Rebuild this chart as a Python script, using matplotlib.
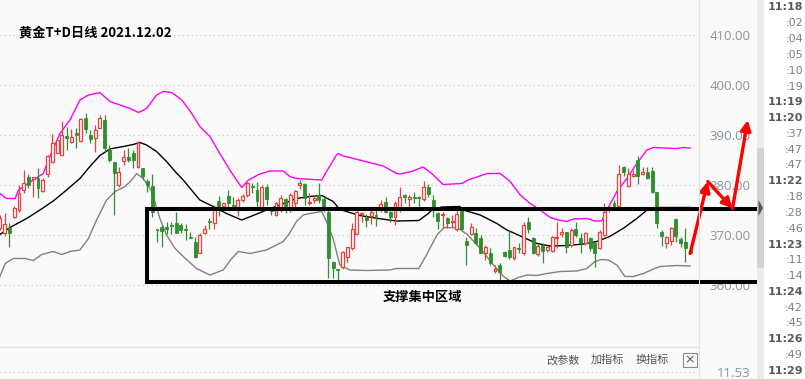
import numpy as np
import matplotlib
matplotlib.use("Agg")
import matplotlib.pyplot as plt
from matplotlib.patches import Rectangle, Polygon
from matplotlib.lines import Line2D

# ---- daily candles (k = candle position) ----
opens = [371.5, 370.4, 371.4, 373.6, 375.0, 379.0, 381.6, 381.3, 381.5, 378.9,
         382.2, 384.7, 386.5, 386.0, 389.7, 388.7, 390.4, 388.8, 393.4, 390.0,
         389.4, 391.4, 392.9, 387.0, 384.7, 380.0, 384.8, 385.6, 386.5, 383.6,
         383.4, 380.8, 379.8, 371.2, 371.7, 371.5, 372.0, 372.5, 372.0, 371.2,
         369.7, 368.7, 366.4, 370.4, 372.8, 372.4, 376.8, 375.9, 377.9, 376.0,
         375.0, 377.0, 378.0, 379.8, 379.0, 375.7, 379.7, 375.0, 374.0, 375.0,
         377.2, 375.0, 376.4, 380.0, 380.2, 376.4, 377.0, 378.0, 377.2, 374.7,
         364.6, 363.2, 363.6, 365.7, 367.4, 370.2, 374.3, 373.6, 373.8, 374.0,
         375.0, 376.7, 374.7, 373.6, 375.5, 378.0, 377.3, 377.7, 377.6, 377.2,
         379.6, 377.0, 374.4, 374.0, 373.4, 372.7, 371.2, 375.2, 368.8, 370.2,
         370.5, 369.3, 366.4, 366.4, 362.9, 364.0, 366.7, 367.0, 365.4, 367.4,
         366.4, 372.5, 369.4, 366.2, 368.0, 367.0, 366.9, 369.4, 370.2, 370.5,
         368.0, 371.2, 369.4, 368.4, 369.5, 368.4, 367.4, 370.0, 375.2, 376.4,
         375.8, 383.6, 379.8, 381.8, 385.0, 382.2, 382.7, 382.9, 378.7, 370.7,
         368.4, 368.9, 373.2, 369.2, 368.7, 367.0]
closes = [373.5, 372.2, 370.5, 375.5, 378.4, 380.5, 380.0, 381.6, 379.4, 381.0,
          385.8, 388.4, 389.0, 390.0, 389.4, 389.7, 390.0, 393.2, 391.2, 389.2,
          391.0, 393.4, 387.4, 385.0, 382.4, 382.7, 385.6, 385.0, 385.0, 388.4,
          381.9, 380.0, 374.7, 371.0, 370.9, 371.2, 371.9, 370.5, 371.0, 371.0,
          369.5, 365.7, 370.0, 371.2, 372.6, 375.7, 375.8, 376.4, 376.5, 375.9,
          377.0, 377.9, 380.4, 379.7, 376.8, 379.7, 377.2, 374.8, 376.5, 377.5,
          375.8, 378.0, 378.8, 380.5, 377.4, 376.7, 377.4, 377.0, 375.0, 365.4,
          363.4, 363.0, 366.7, 367.5, 371.2, 374.7, 374.5, 373.0, 374.7, 373.9,
          376.2, 374.7, 373.6, 376.5, 377.7, 377.6, 377.7, 377.4, 377.5, 379.7,
          378.2, 375.0, 372.9, 374.2, 372.5, 372.9, 374.2, 371.2, 368.0, 371.7,
          368.5, 366.5, 367.7, 364.4, 363.3, 362.7, 365.8, 365.6, 367.6, 367.2,
          372.0, 371.2, 366.4, 367.8, 366.9, 367.7, 369.7, 369.7, 370.5, 367.7,
          371.0, 370.0, 368.4, 370.4, 367.4, 366.4, 370.7, 374.7, 375.7, 375.7,
          382.2, 382.7, 382.2, 382.2, 381.8, 382.5, 381.4, 378.7, 372.5, 369.8,
          369.7, 371.4, 369.8, 368.5, 367.4, 366.5]
highs = [374.0, 374.5, 372.5, 375.8, 380.0, 383.0, 382.2, 381.7, 383.4, 381.4,
         386.0, 390.2, 389.4, 392.9, 391.7, 391.2, 391.4, 393.4, 394.5, 391.0,
         392.0, 394.0, 394.0, 388.0, 384.7, 383.7, 387.0, 387.4, 387.0, 388.8,
         383.4, 381.3, 382.2, 371.2, 372.0, 372.7, 372.7, 374.7, 372.5, 372.2,
         370.7, 369.7, 370.4, 372.0, 373.5, 376.0, 377.9, 376.5, 379.0, 377.7,
         377.4, 378.2, 380.7, 380.5, 380.7, 380.0, 380.2, 375.7, 376.7, 378.0,
         377.4, 378.4, 379.0, 381.0, 380.5, 378.4, 378.0, 380.5, 377.7, 375.0,
         364.8, 363.2, 366.9, 367.7, 372.4, 375.0, 374.7, 374.2, 375.4, 375.0,
         377.0, 377.7, 375.5, 376.9, 379.7, 378.2, 378.0, 378.7, 377.8, 380.9,
         380.2, 378.0, 374.7, 374.7, 373.6, 374.0, 375.0, 375.4, 369.7, 372.5,
         371.4, 370.0, 368.0, 367.4, 364.0, 364.4, 366.9, 371.0, 367.7, 368.4,
         372.7, 373.7, 369.7, 368.2, 368.5, 368.0, 369.8, 372.7, 371.4, 370.7,
         371.4, 372.7, 370.4, 370.7, 369.7, 368.7, 371.0, 376.4, 376.2, 377.0,
         384.0, 383.8, 383.4, 383.0, 385.8, 383.6, 383.7, 383.7, 378.7, 371.0,
         369.8, 371.6, 373.4, 369.6, 371.4, 368.0]
lows = [371.0, 369.8, 367.7, 373.4, 374.7, 378.4, 379.4, 377.7, 377.4, 378.7,
        381.7, 384.4, 386.4, 386.0, 387.0, 388.4, 387.4, 388.6, 390.4, 388.4,
        386.7, 391.4, 386.7, 384.7, 374.0, 379.7, 384.0, 384.7, 383.4, 383.4,
        381.0, 378.7, 373.7, 368.7, 367.7, 370.2, 370.2, 370.4, 370.4, 369.0,
        369.4, 365.4, 366.4, 370.2, 371.2, 371.2, 373.9, 375.4, 375.0, 375.0,
        373.8, 376.7, 377.7, 378.4, 375.5, 375.5, 376.0, 374.0, 373.8, 374.7,
        374.4, 374.7, 375.7, 379.2, 376.0, 376.0, 376.4, 376.4, 374.7, 361.4,
        361.4, 360.7, 363.2, 364.6, 367.0, 370.2, 372.7, 371.7, 372.2, 371.8,
        374.7, 374.4, 372.7, 372.0, 374.7, 376.5, 375.0, 376.4, 375.7, 376.9,
        377.7, 373.6, 371.2, 371.4, 371.4, 371.7, 370.9, 371.0, 364.0, 370.2,
        368.0, 366.4, 365.0, 364.0, 362.4, 360.7, 365.7, 365.2, 365.0, 366.4,
        366.0, 370.4, 366.2, 365.8, 364.4, 366.7, 366.7, 367.4, 369.7, 366.4,
        367.7, 369.7, 366.4, 368.0, 366.9, 363.6, 367.2, 369.8, 374.7, 375.0,
        375.6, 381.8, 379.6, 381.7, 380.2, 382.0, 381.2, 378.4, 371.4, 367.8,
        367.4, 368.0, 368.7, 367.6, 364.7, 366.4]

upper_k = [0, 1.4, 3.2, 3.9, 7.0, 9.1, 10.5, 12.6, 14.7, 16.8,
           18.6, 21.0, 23.1, 25.2, 27.3, 29.1, 30.8, 32.9, 34.3, 36.1,
           38.2, 40.3, 42.0, 44.1, 46.2, 48.3, 49.7, 50.8, 52.2, 54.6,
           56.7, 59.5, 60.9, 62.3, 67.6, 68.6, 70.7, 71.1, 72.1, 73.5,
           75.6, 78.4, 80.5, 83.3, 84.0, 86.5, 88.9, 90.7, 93.1, 97.0,
           98.6, 102.4, 105.1, 107.2, 109.3, 111.4, 113.5, 115.6, 117.3, 119.1,
           120.5, 123.3, 125.0, 126.4, 128.1, 129.6, 131.7, 133.8, 135.9, 137.3,
           142.2, 143.6, 145.0]
upper_v = [378.3, 377.3, 377.3, 379.0, 381.0, 382.3, 385.7, 390.3, 393.0, 397.0,
           398.0, 398.5, 396.7, 396.0, 395.3, 394.5, 395.3, 398.0, 398.7, 398.5,
           397.0, 394.3, 391.7, 389.7, 386.3, 383.0, 381.0, 379.5, 381.0, 382.2,
           382.8, 382.8, 381.7, 381.3, 381.0, 382.7, 386.0, 386.3, 385.8, 385.5,
           385.0, 384.3, 383.8, 382.3, 382.2, 382.7, 383.6, 382.3, 380.1, 380.3,
           381.1, 382.3, 382.3, 380.7, 378.0, 376.3, 375.0, 373.5, 373.0, 372.7,
           373.2, 373.3, 372.8, 372.8, 376.0, 378.7, 381.3, 384.3, 387.0, 387.5,
           387.3, 387.5, 387.4]
mid_k = [0, 2.1, 5.6, 8.4, 11.2, 14.0, 16.8, 18.9, 21.0, 23.1,
         25.9, 28.0, 29.4, 30.8, 32.9, 35.0, 36.8, 38.5, 42.0, 44.8,
         47.6, 50.8, 53.2, 56.0, 58.8, 62.3, 65.1, 67.6, 70.0, 71.4,
         75.6, 79.5, 83.3, 88.0, 90.0, 90.7, 92.8, 96.6, 97.3, 100.9,
         104.4, 106.5, 108.2, 110.0, 112.8, 115.6, 119.1, 122.6, 125.4, 128.1,
         130.9, 133.8, 136.2, 138.7, 145.0]
mid_v = [370.1, 371.5, 373.3, 375.0, 376.8, 379.0, 381.3, 383.7, 385.9, 387.2,
         387.7, 388.1, 388.5, 388.0, 386.7, 384.7, 382.7, 381.0, 377.0, 375.7,
         374.3, 373.0, 373.9, 375.0, 376.0, 377.3, 377.7, 377.9, 376.7, 375.1,
         373.9, 373.3, 372.8, 372.9, 374.3, 375.0, 375.6, 375.7, 375.0, 374.0,
         372.3, 371.0, 370.3, 369.5, 368.3, 367.8, 367.9, 368.2, 368.7, 369.7,
         371.3, 373.3, 375.2, 375.5, 375.5]
lower_k = [0, 1.1, 2.8, 5.3, 7.0, 8.8, 11.2, 13.0, 14.7, 16.8,
           18.6, 20.3, 22.4, 24.2, 26.3, 27.7, 28.7, 30.1, 31.9, 33.6,
           35.0, 36.8, 38.5, 41.3, 44.1, 46.9, 48.7, 50.1, 52.5, 56.0,
           59.5, 60.6, 62.3, 63.7, 65.1, 67.6, 68.6, 70.0, 71.4, 73.5,
           76.8, 81.9, 83.3, 88.0, 89.6, 91.8, 93.3, 96.2, 98.3, 100.9,
           103.7, 105.8, 107.2, 108.9, 110.7, 112.8, 114.9, 117.7, 121.2, 123.3,
           125.0, 126.4, 127.8, 129.6, 131.3, 133.1, 135.2, 137.3, 138.7, 142.2,
           145.0]
lower_v = [361.7, 364.3, 365.3, 365.3, 364.9, 366.1, 366.7, 366.1, 366.7, 367.0,
           369.3, 373.0, 377.0, 378.7, 379.7, 381.0, 382.3, 381.3, 378.7, 373.3,
           370.0, 367.3, 365.7, 363.3, 362.0, 363.0, 365.3, 366.7, 366.3, 367.0,
           368.7, 370.0, 372.7, 374.0, 374.3, 374.7, 372.7, 369.3, 364.0, 363.0,
           362.9, 363.0, 363.3, 363.3, 366.0, 370.0, 371.5, 371.4, 370.0, 367.3,
           364.0, 361.7, 360.8, 361.5, 362.0, 361.9, 362.3, 362.7, 362.8, 363.3,
           364.7, 365.1, 365.0, 364.0, 361.7, 361.7, 362.3, 363.2, 363.7, 363.9,
           363.8]

# ---- annotations ----
price_ticks = [360, 370, 380, 390, 400, 410]
zone_k = [30.9, 164.7]
zone_v = [360.66, 375.2]
zone_label = "支撑集中区域"
zone_label_pos = (88.7, 357.6)
arrow_k = [145.0, 148.7, 153.9, 157.1]
arrow_v = [366.3, 380.7, 375.3, 393.0]
title = "黄金T+D日线 2021.12.02"
indicator_level = 11.53
panel_buttons = ["改参数", "加指标", "换指标"]
sidebar_times = ["11:18", ":02", ":04", ":05", ":10", ":19", "11:19", "11:20",
                 ":37", ":47", ":47", "11:22", ":18", ":28", ":46", "11:23",
                 ":11", ":14", "11:24", ":42", ":45", "11:26", ":49", "11:29"]

W, H = 805, 379
UP, DOWN = "#e8403e", "#2f8f2f"
BG = "#fafafa"
CJK = ["Noto Sans CJK SC", "DejaVu Sans"]

fig = plt.figure(figsize=(W / 100, H / 100), dpi=100, facecolor=BG)

def px(x, y, w, h):
    # pixel box (from top-left) -> figure fraction
    return [x / W, 1 - (y + h) / H, w / W, h / H]

# main chart
ax = fig.add_axes(px(0, 0, 698, 347))
ax.set_facecolor(BG)
ax.set_xlim(0.013, 146.65)
ax.set_ylim(347.6, 417)

xs = np.arange(len(opens))
o = np.array(opens); c = np.array(closes)
hi = np.array(highs); lo = np.array(lows)
up = c >= o
body_lo = np.minimum(o, c)
body_h = np.maximum(np.abs(c - o), 0.18)

ax.vlines(xs[up], lo[up], hi[up], color=UP, lw=0.9, zorder=3)
ax.vlines(xs[~up], lo[~up], hi[~up], color=DOWN, lw=0.9, zorder=3)
ax.bar(xs[up], body_h[up], bottom=body_lo[up], width=0.62,
       facecolor=BG, edgecolor=UP, lw=0.9, zorder=4)
ax.bar(xs[~up], body_h[~up], bottom=body_lo[~up], width=0.62,
       facecolor=DOWN, edgecolor=DOWN, lw=0.6, zorder=4)

ax.plot(upper_k, upper_v, color="#ff00ff", lw=1.0, zorder=2)
ax.plot(mid_k, mid_v, color="black", lw=1.0, zorder=2)
ax.plot(lower_k, lower_v, color="#808080", lw=1.0, zorder=2)

ax.set_yticks(price_ticks)
ax.set_yticklabels([f"{t:.2f}" for t in price_ticks])
ax.yaxis.tick_right()
ax.tick_params(axis="y", length=0, pad=38, labelsize=9.5, labelcolor="#8894a0")
for lbl in ax.get_yticklabels():
    lbl.set_ha("right")
    lbl.set_family("Open Sans")
ax.set_xticks([])
ax.yaxis.grid(True, linestyle=(0, (1, 3)), color="#c4c4c4", lw=0.8)
for s in ax.spines.values():
    s.set_visible(False)

# support zone box and label
ax.add_patch(Rectangle((zone_k[0], zone_v[0]), zone_k[1] - zone_k[0],
                       zone_v[1] - zone_v[0], fill=False, edgecolor="black",
                       lw=2.9, clip_on=False, zorder=6))
ax.text(*zone_label_pos, zone_label, ha="center", va="center",
        fontsize=9.5, fontweight="bold", family=CJK, color="black")

# red forecast arrows
for i in range(len(arrow_k) - 1):
    ax.annotate("", xy=(arrow_k[i + 1], arrow_v[i + 1]),
                xytext=(arrow_k[i], arrow_v[i]), annotation_clip=False,
                arrowprops=dict(arrowstyle="-|>", color="#ff0000", lw=2.4,
                                mutation_scale=15, shrinkA=0, shrinkB=0),
                zorder=7)

# indicator panel
ax2 = fig.add_axes(px(0, 347, 698, 32))
ax2.set_facecolor(BG)
ax2.set_xlim(0, 1)
ax2.set_ylim(11.0, 13.42)
ax2.axhline(indicator_level, linestyle=(0, (1, 3)), color="#c4c4c4", lw=0.8)
ax2.set_yticks([indicator_level])
ax2.set_yticklabels([f"{indicator_level:.2f}"])
ax2.yaxis.tick_right()
ax2.tick_params(axis="y", length=0, pad=38, labelsize=9.5, labelcolor="#8894a0")
for lbl in ax2.get_yticklabels():
    lbl.set_ha("right")
    lbl.set_family("Open Sans")
ax2.set_xticks([])
for s in ax2.spines.values():
    s.set_visible(False)

for lab, x0 in zip(panel_buttons, [546, 591, 636]):
    fig.text(x0 / W, 1 - 360 / H, lab, ha="left", va="center",
             fontsize=8, family=CJK, color="#555555")
fig.patches.append(Rectangle((683 / W, 1 - 367 / H), 14 / W, 14 / H,
                             transform=fig.transFigure, fill=False,
                             edgecolor="#8a8a8a", lw=0.8))
fig.text(690 / W, 1 - 360 / H, "×", ha="center", va="center",
         fontsize=9, color="#555555")

# separators
fig.add_artist(Line2D([0, 699 / W], [1 - 347 / H] * 2, color="#e2e2e2", lw=0.8))
fig.add_artist(Line2D([699 / W] * 2, [0, 1], color="#e2e2e2", lw=0.8))

# title
fig.text(19 / W, 1 - 33 / H, title, ha="left", va="center",
         fontsize=9.5, fontweight="bold", family=CJK, color="black")

# right side time list with scroll bar
fig.patches.append(Rectangle((764 / W, 0), 41 / W, 1, transform=fig.transFigure,
                             facecolor="white", edgecolor="none", zorder=0))
fig.patches.append(Rectangle((757 / W, 0), 7 / W, 1, transform=fig.transFigure,
                             facecolor="#ececec", edgecolor="none", zorder=0))
fig.patches.append(Rectangle((757 / W, 1 - 268 / H), 7 / W, 120 / H,
                             transform=fig.transFigure, facecolor="#d3d3d3",
                             edgecolor="none", zorder=0))
fig.patches.append(Polygon([(758.5 / W, 1 - 200 / H), (763 / W, 1 - 208 / H),
                            (758.5 / W, 1 - 216 / H)], closed=True,
                           transform=fig.transFigure, facecolor="#555555",
                           edgecolor="none", zorder=1))
for i, t in enumerate(sidebar_times):
    y = 1 - (7.5 + 15.8 * i) / H
    if t.startswith(":"):
        fig.text(803 / W, y, t, ha="right", va="center", fontsize=8,
                 color="#7d7d7d")
    else:
        fig.text(803 / W, y, t, ha="right", va="center", fontsize=8,
                 fontweight="bold", color="#5a5a5a")

fig.savefig("out.png", dpi=100, facecolor=BG)
